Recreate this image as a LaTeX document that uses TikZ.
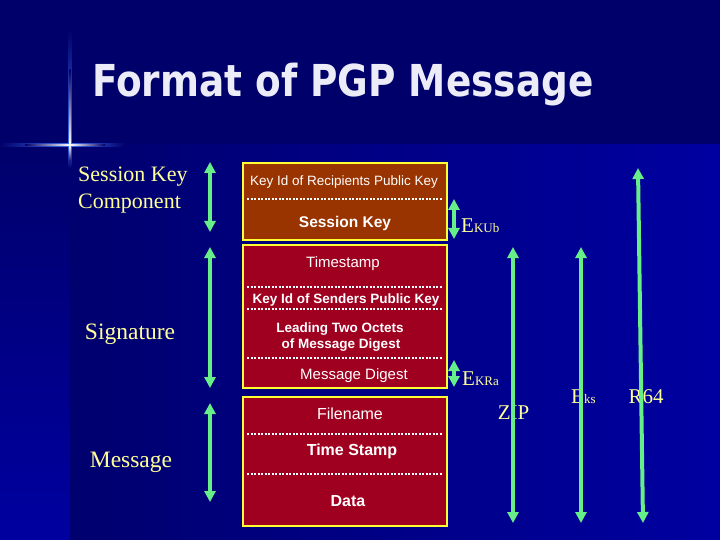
\documentclass[tikz,border=0pt]{standalone}
\usepackage{fontspec}
\setmainfont{Liberation Serif}
\setsansfont{Liberation Sans}
\newfontfamily\titlefont{DejaVu Sans}
\usetikzlibrary{arrows.meta}
\definecolor{bgnavy}{HTML}{00006B}
\definecolor{bgdark}{HTML}{00006E}
\definecolor{bgblue}{HTML}{0000A0}
\definecolor{boxbrown}{HTML}{993300}
\definecolor{boxred}{HTML}{A00020}
\definecolor{boxborder}{HTML}{FFFF33}
\definecolor{arrowgreen}{HTML}{66EE88}
\definecolor{labelyellow}{HTML}{FFFF99}
\definecolor{titlewhite}{HTML}{ECECF8}
\definecolor{glow}{HTML}{4070F0}
\begin{document}
\begin{tikzpicture}[x=1pt,y=-1pt,
  pbox/.style={draw=boxborder, line width=2.5pt, minimum width=204pt, inner sep=0pt},
  sepline/.style={white, line width=2.5pt, dash pattern=on 2pt off 1.5pt},
  txt/.style={text=white, anchor=base, inner sep=0pt, font=\sffamily\fontsize{15}{17}\selectfont},
  txtb/.style={text=white, anchor=base, inner sep=0pt, font=\sffamily\bfseries\fontsize{13.5}{15}\selectfont},
  lab/.style={text=labelyellow, inner sep=0pt, font=\fontsize{21}{24}\selectfont},
  garrow/.style={draw=arrowgreen, line width=4pt, {Triangle[width=11pt,length=11pt]}-{Triangle[width=11pt,length=11pt]}}
]
\useasboundingbox (0,0) rectangle (720,540);
% background
\fill[bgnavy] (0,0) rectangle (720,540);
\shade[left color=bgdark, right color=bgblue] (70,145) rectangle (720,540);
\shade[top color=bgnavy, bottom color=bgblue] (0,145) rectangle (70,540);
% crosshair glow
\shade[top color=bgnavy, bottom color=glow] (68.5,30) rectangle (71.5,145);
\shade[top color=glow, bottom color=bgdark] (68.5,145) rectangle (71.5,168);
\shade[left color=bgnavy, right color=glow] (0,143.5) rectangle (70,146.5);
\shade[left color=glow, right color=bgnavy] (70,143.5) rectangle (125,146.5);
\shade[top color=bgnavy, bottom color=white] (69.4,70) rectangle (70.6,145);
\shade[top color=white, bottom color=bgdark] (69.4,145) rectangle (70.6,162);
\shade[left color=bgnavy, right color=white] (25,144.4) rectangle (70,145.6);
\shade[left color=white, right color=bgnavy] (70,144.4) rectangle (105,145.6);
% title
\node[anchor=base west, inner sep=0pt, text=titlewhite, xscale=0.85,
  font=\titlefont\bfseries\fontsize{44}{48}\selectfont] (title) at (92,97) {Format of PGP Message};
% boxes
\node[pbox, fill=boxbrown, minimum height=77pt] (b1) at (345,201.5) {};
\node[pbox, fill=boxred, minimum height=143pt] (b2) at (345,316.5) {};
\node[pbox, fill=boxred, minimum height=129pt] (b3) at (345,461.5) {};
% separators
\draw[sepline] (247,199) -- (443,199);
\draw[sepline] (247,287) -- (443,287);
\draw[sepline] (247,309) -- (443,309);
\draw[sepline] (247,358) -- (443,358);
\draw[sepline] (247,434) -- (443,434);
\draw[sepline] (247,474) -- (443,474);
% box texts
\node[txt, font=\sffamily\fontsize{13.5}{15}\selectfont] (t1) at (344,186) {Key Id of Recipients Public Key};
\node[txtb, font=\sffamily\bfseries\fontsize{15.5}{17}\selectfont] (t2) at (345,228) {Session Key};
\node[txt] (t3) at (343,267) {Timestamp};
\node[txtb] (t4) at (346,303) {Key Id of Senders Public Key};
\node[txtb] (t5) at (340,332) {Leading Two Octets};
\node[txtb] (t6) at (341,348) {of Message Digest};
\node[txt] (t7) at (354,379) {Message Digest};
\node[txt, font=\sffamily\fontsize{16}{18}\selectfont] (t8) at (350,419) {Filename};
\node[txtb, font=\sffamily\bfseries\fontsize{16}{18}\selectfont] (t9) at (352,455) {Time Stamp};
\node[txtb, font=\sffamily\bfseries\fontsize{16}{18}\selectfont] (t10) at (348,506) {Data};
% left labels
\node[lab, anchor=base west, font=\fontsize{22}{24}\selectfont] (skc1) at (78,182) {Session Key};
\node[lab, anchor=base west, font=\fontsize{22}{24}\selectfont] (skc2) at (78,208) {Component};
\node[lab, anchor=base, font=\fontsize{23.5}{26}\selectfont] (sig) at (130,339) {Signature};
\node[lab, anchor=base, font=\fontsize{23.5}{26}\selectfont] (msg) at (131,467) {Message};
% arrow end points
\coordinate (a1t) at (210,162); \coordinate (a1b) at (210,232);
\coordinate (a2t) at (210,247); \coordinate (a2b) at (210,388);
\coordinate (a3t) at (210,403); \coordinate (a3b) at (210,502);
\coordinate (kut) at (454,199); \coordinate (kub) at (454,239);
\coordinate (krt) at (454,360); \coordinate (krb) at (454,387);
\coordinate (zt) at (513,247); \coordinate (zb) at (513,523);
\coordinate (et) at (581,247); \coordinate (eb) at (581,523);
\coordinate (rt) at (638,168); \coordinate (rb) at (643,523);
% right labels (behind arrows)
\node[lab, anchor=base west] (ekub) at (461,233) {E{\fontsize{13}{13}\selectfont KUb}};
\node[lab, anchor=base west] (ekra) at (462,385) {E{\fontsize{13}{13}\selectfont KRa}};
\node[lab, anchor=base] (zip) at (513.5,419) {ZIP};
\node[lab, anchor=base west] (eks) at (571,403) {E{\fontsize{13}{13}\selectfont ks}};
\node[lab, anchor=base] (r64) at (646,403) {R64};
% arrows
\draw[garrow] (a1t) -- (a1b);
\draw[garrow] (a2t) -- (a2b);
\draw[garrow] (a3t) -- (a3b);
\draw[garrow] (kut) -- (kub);
\draw[garrow] (krt) -- (krb);
\draw[garrow] (zt) -- (zb);
\draw[garrow] (et) -- (eb);
\draw[garrow] (rt) -- (rb);
\end{tikzpicture}
\end{document}
